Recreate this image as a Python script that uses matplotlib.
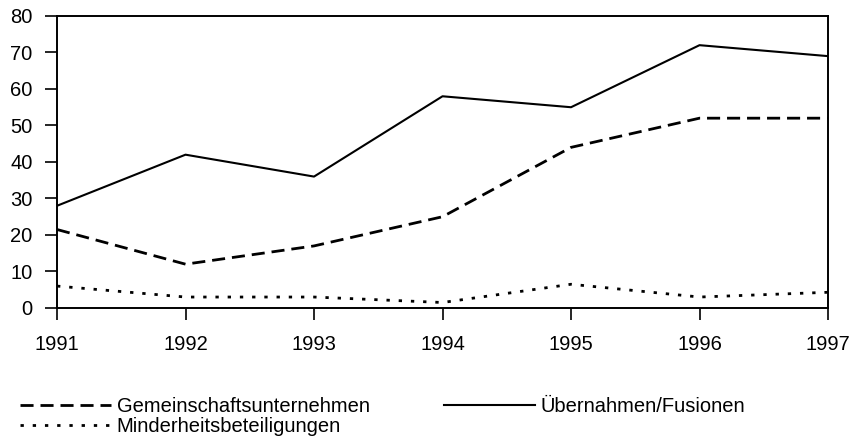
import matplotlib
matplotlib.use('Agg')
import matplotlib.pyplot as plt

# Werte
jahre = [1991, 1992, 1993, 1994, 1995, 1996, 1997]
uebernahmen = [28, 42, 36, 58, 55, 72, 69]
gemeinschaft = [21.5, 12, 17, 25, 44, 52, 52]
minderheit = [6, 3, 3, 1.5, 6.5, 3, 4.3]

plt.rcParams['font.family'] = ['Liberation Sans', 'DejaVu Sans']
plt.rcParams['font.size'] = 14.5

fig = plt.figure(figsize=(8.56, 4.45), dpi=100)
ax = fig.add_axes([0.0666, 0.3079, 0.9007, 0.6562])

l1, = ax.plot(jahre, gemeinschaft, color='black', lw=2.0, dashes=(4.7, 2.5),
              label='Gemeinschaftsunternehmen')
l3, = ax.plot(jahre, minderheit, color='black', lw=2.0, dashes=(1.2, 3.2),
              label='Minderheitsbeteiligungen')
l2, = ax.plot(jahre, uebernahmen, color='black', lw=1.5,
              label='Übernahmen/Fusionen')

ax.set_xlim(1991, 1997)
ax.set_ylim(0, 80)
ax.set_yticks(range(0, 81, 10))
ax.set_xticks(jahre)
ax.tick_params(axis='y', direction='out', length=8.5, width=1.2, pad=9)
ax.tick_params(axis='x', direction='out', length=8.5, width=1.2, pad=11)
for s in ax.spines.values():
    s.set_linewidth(1.4)

fig.legend(handles=[l1, l3, l2], ncol=2, loc='upper left',
           bbox_to_anchor=(0.0234, 0.108), frameon=False,
           handlelength=4.5, handletextpad=0.3, columnspacing=3.7,
           labelspacing=0.05, borderpad=0, borderaxespad=0)

fig.savefig('out.png', dpi=100)
